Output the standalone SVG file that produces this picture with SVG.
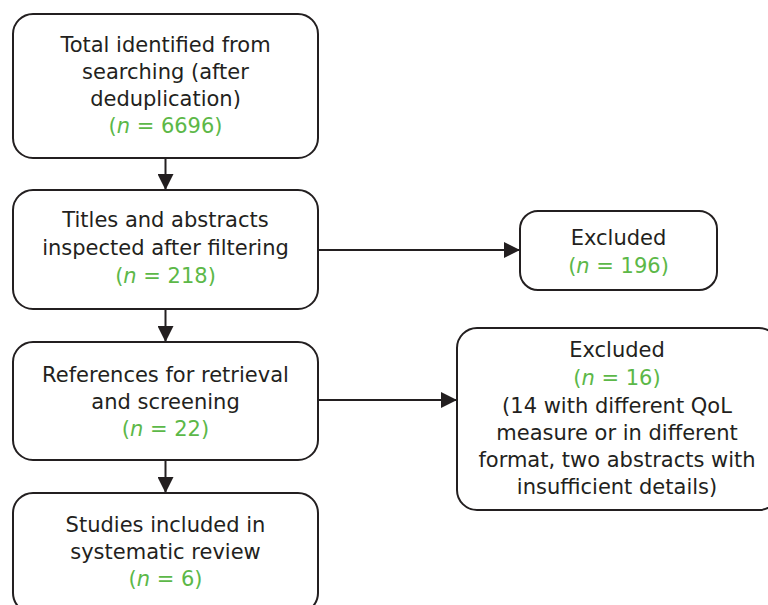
<svg xmlns="http://www.w3.org/2000/svg" width="768" height="605" viewBox="0 0 768 605">
<defs>
<style>
.box{fill:#fff;stroke:#231f20;stroke-width:2}
.t{font-family:"DejaVu Sans","Liberation Sans",sans-serif;font-size:21px;fill:#231f20;text-anchor:middle}
.g{fill:#5cb848}
.i{font-style:italic}
.ln{stroke:#231f20;stroke-width:2;fill:none}
</style>
<marker id="ah" viewBox="0 0 10 10" refX="10" refY="5" markerWidth="8" markerHeight="8" markerUnits="strokeWidth" orient="auto">
<path d="M0,0 L10,5 L0,10 z" fill="#231f20"/>
</marker>
</defs>
<rect width="768" height="605" fill="#fff"/>
<g id="connectors">
<line class="ln" x1="165.5" y1="158" x2="165.5" y2="190" marker-end="url(#ah)"/>
<line class="ln" x1="165.5" y1="309" x2="165.5" y2="342" marker-end="url(#ah)"/>
<line class="ln" x1="165.5" y1="460" x2="165.5" y2="493" marker-end="url(#ah)"/>
<line class="ln" x1="318" y1="250" x2="520" y2="250" marker-end="url(#ah)"/>
<line class="ln" x1="318" y1="400" x2="457" y2="400" marker-end="url(#ah)"/>
</g>
<g id="n1">
<rect class="box" x="13" y="14" width="305" height="144" rx="20"/>
<text class="t" x="165.5" y="52">Total identified from</text>
<text class="t" x="165.5" y="79">searching (after</text>
<text class="t" x="165.5" y="106">deduplication)</text>
<text class="t g" x="165.5" y="133">(<tspan class="i">n</tspan> = 6696)</text>
</g>
<g id="n2">
<rect class="box" x="13" y="190" width="305" height="119" rx="20"/>
<text class="t" x="165.5" y="227">Titles and abstracts</text>
<text class="t" x="165.5" y="255">inspected after filtering</text>
<text class="t g" x="165.5" y="283">(<tspan class="i">n</tspan> = 218)</text>
</g>
<g id="n3">
<rect class="box" x="13" y="342" width="305" height="118" rx="20"/>
<text class="t" x="165.5" y="382">References for retrieval</text>
<text class="t" x="165.5" y="409">and screening</text>
<text class="t g" x="165.5" y="436">(<tspan class="i">n</tspan> = 22)</text>
</g>
<g id="n4">
<rect class="box" x="13" y="493" width="305" height="120" rx="20"/>
<text class="t" x="165.5" y="532">Studies included in</text>
<text class="t" x="165.5" y="559">systematic review</text>
<text class="t g" x="165.5" y="586">(<tspan class="i">n</tspan> = 6)</text>
</g>
<g id="n5">
<rect class="box" x="520" y="211" width="197" height="79" rx="18"/>
<text class="t" x="618.5" y="245">Excluded</text>
<text class="t g" x="618.5" y="273">(<tspan class="i">n</tspan> = 196)</text>
</g>
<g id="n6">
<rect class="box" x="457" y="328" width="322" height="182" rx="20"/>
<text class="t" x="617" y="357">Excluded</text>
<text class="t g" x="617" y="385">(<tspan class="i">n</tspan> = 16)</text>
<text class="t" x="617" y="413">(14 with different QoL</text>
<text class="t" x="617" y="440">measure or in different</text>
<text class="t" x="617" y="467">format, two abstracts with</text>
<text class="t" x="617" y="494">insufficient details)</text>
</g>
</svg>
